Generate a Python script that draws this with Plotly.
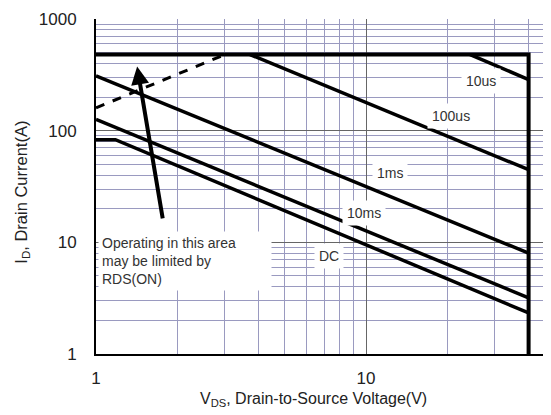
import plotly.graph_objects as go
import math

# ---- data ----
limit_v = [1, 40, 40]
limit_i = [480, 480, 1]
rds_v = [1, 3.0]
rds_i = [160, 480]
us10_v = [24.3, 40]
us10_i = [480, 287]
us100_v = [3.72, 40]
us100_i = [480, 44.7]
ms1_v = [1, 40]
ms1_i = [310, 8.0]
ms10_v = [1, 40]
ms10_i = [126, 3.18]
dc_v = [1, 1.18, 40]
dc_i = [83, 83, 2.33]

curve_labels = ["10us", "100us", "1ms", "10ms", "DC"]
label_v = [26.7, 20.7, 12.3, 9.85, 7.3]
label_i = [280, 134, 42, 18.4, 7.6]

note_text = "Operating in this area<br>may be limited by<br>RDS(ON)"
arrow_tail = (1.77, 15.9)
arrow_tip = (1.42, 375)

x_ticks = [1, 10]
y_ticks = [1, 10, 100, 1000]

FONT = "Liberation Sans, Arial, sans-serif"

fig = go.Figure()
line = dict(color="black", width=3.5)
fig.add_trace(go.Scatter(x=limit_v, y=limit_i, mode="lines", line=dict(color="black", width=4)))
fig.add_trace(go.Scatter(x=rds_v, y=rds_i, mode="lines", line=dict(color="black", width=3, dash="dash")))
for vx, iy in [(us10_v, us10_i), (us100_v, us100_i), (ms1_v, ms1_i), (ms10_v, ms10_i), (dc_v, dc_i)]:
    fig.add_trace(go.Scatter(x=vx, y=iy, mode="lines", line=line))

ann = []
for t, vx, iy in zip(curve_labels, label_v, label_i):
    ann.append(dict(x=math.log10(vx), y=math.log10(iy), xref="x", yref="y", text=t,
                    showarrow=False, bgcolor="white", borderpad=4,
                    font=dict(family=FONT, size=14, color="#333")))
ann.append(dict(x=math.log10(1.02), y=math.log10(6.8), xref="x", yref="y", text=note_text,
                showarrow=False, bgcolor="white", borderpad=3, align="left", width=166,
                xanchor="left", yanchor="middle",
                font=dict(family=FONT, size=14, color="#333")))
ann.append(dict(x=math.log10(arrow_tip[0]), y=math.log10(arrow_tip[1]), xref="x", yref="y",
                ax=math.log10(arrow_tail[0]), ay=math.log10(arrow_tail[1]), axref="x", ayref="y",
                text="", showarrow=True, arrowhead=2, arrowsize=0.9, arrowwidth=4,
                arrowcolor="black"))
ann.append(dict(x=0.479, y=-0.137, xref="paper", yref="paper", xanchor="center", yanchor="middle",
                text="V<sub>DS</sub>, Drain-to-Source Voltage(V)", showarrow=False,
                font=dict(family=FONT, size=16, color="#222")))
ann.append(dict(x=-0.163, y=0.484, xref="paper", yref="paper", xanchor="center", yanchor="middle",
                text="I<sub>D</sub>, Drain Current(A)", showarrow=False, textangle=-90,
                font=dict(family=FONT, size=16.5, color="#222")))

# page body has an 8px margin, so the figure is 8px smaller and margins shifted
fig.update_layout(
    width=543, height=407,
    margin=dict(l=88, r=0, t=11, b=61),
    paper_bgcolor="white", plot_bgcolor="white",
    showlegend=False,
    annotations=ann,
)
fig.update_xaxes(type="log", range=[0, 1.685], tickvals=x_ticks, ticktext=[str(v) for v in x_ticks],
                 showgrid=True, gridcolor="#666", gridwidth=1,
                 minor=dict(tickvals=[v * d for d in [1, 10] for v in range(2, 10)], showgrid=True,
                            gridcolor="#9a9ac0", gridwidth=1, ticks=""),
                 showline=True, linecolor="black", linewidth=2, mirror=False,
                 ticks="", ticklabelstandoff=8,
                 tickfont=dict(family=FONT, size=17, color="#222"), zeroline=False)
fig.update_yaxes(type="log", range=[0, 3], tickvals=y_ticks, ticktext=[str(v) for v in y_ticks],
                 showgrid=True, gridcolor="#666", gridwidth=1,
                 minor=dict(tickvals=[v * d for d in [1, 10, 100] for v in range(2, 10)], showgrid=True,
                            gridcolor="#9a9ac0", gridwidth=1, ticks=""),
                 showline=True, linecolor="black", linewidth=2, mirror=False,
                 ticks="", ticklabelstandoff=14,
                 tickfont=dict(family=FONT, size=17, color="#222"), zeroline=False)

fig.write_html("out.html")
